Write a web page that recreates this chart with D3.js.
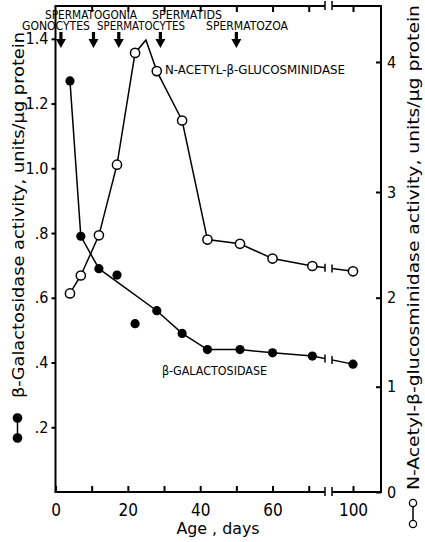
<!DOCTYPE html>
<meta charset="utf-8">
<style>
body { margin: 0; background: #fff; }
text { font-family: 'DejaVu Sans Condensed', 'DejaVu Sans', sans-serif; fill: #000; }
.tick line { stroke: #000; stroke-width: 2px; }
.tick text { font-size: 16px; }
.frame { stroke: #000; stroke-width: 2px; fill: none; }
.series { fill: none; stroke: #000; stroke-width: 1.5px; }
.lab { font-size: 11.5px; }
</style>
<body>
<script src="https://d3js.org/d3.v7.min.js"></script>
<script>

// ages (days) at which both enzymes were measured
const days = [4, 7, 12, 17, 22, 28, 35, 42, 51, 60, 71, 100];
// beta-galactosidase, units/ug protein (left axis)
const galValues = [1.27, 0.79, 0.69, 0.67, 0.52, 0.56, 0.49, 0.44, 0.44, 0.43, 0.42, 0.395];
// points the drawn line goes through (17 and 22 days sit off the line)
const galOnLine = [1, 1, 1, 0, 0, 1, 1, 1, 1, 1, 1, 1];
// N-acetyl-beta-glucosaminidase, units/ug protein (right axis)
const nagValues = [2.04, 2.21, 2.59, 3.21, 4.07, 3.93, 3.55, 2.55, 2.51, 2.37, 2.30, 2.25];
// peak of the drawn curve between 22 and 28 days
const nagPeak = [25, 4.17];

const stageArrows = [1.5, 10.5, 17.5, 29, 50];
const stageLabels = [
  {text: "SPERMATOGONIA", row: 0, x0: 45, x1: 137},
  {text: "SPERMATIDS", row: 0, x0: 152, x1: 222},
  {text: "GONOCYTES", row: 1, x0: 22, x1: 90},
  {text: "SPERMATOCYTES", row: 1, x0: 97, x1: 185},
  {text: "SPERMATOZOA", row: 1, x0: 206, x1: 288}
];

const xTicks = [0, 10, 20, 30, 40, 50, 60, 70, 100],
      xLabels = [0, 20, 40, 60, 100],
      leftTicks = [0.2, 0.4, 0.6, 0.8, 1.0, 1.2, 1.4],
      rightTicks = [0, 1, 2, 3, 4];

const breakLo = 74.5, breakHi = 94;

let width = 425, height = 542,
    mLeft = 55.5, mRight = 381, mTop = 6, mBottom = 492;

let svg = d3.select("body").append("svg")
            .attr("width", width)
            .attr("height", height);

// broken time axis: 0-74.5 then 94-108
let x = d3.scaleLinear()
          .domain([0, breakLo, breakHi, 108])
          .range([mLeft, 325, 332, mRight]),
    yL = d3.scaleLinear().domain([0, 1.4]).range([mBottom, 38.8]),
    // hand drawn right scale is not evenly spaced
    yR = d3.scaleLinear().domain([0, 1, 2, 3, 4]).range([mBottom, 386.7, 297.7, 192, 62]);

// bottom axis
svg.append("g")
    .attr("transform", `translate(0,${mBottom})`)
    .call(d3.axisBottom(x).tickValues(xTicks).tickSizeInner(-6).tickSizeOuter(0).tickPadding(12)
            .tickFormat(d => xLabels.includes(d) ? d : ""))
    .call(g => g.select(".domain").remove())
    .call(g => g.selectAll(".tick text").style("font-size", "17px"));

// top ticks
svg.append("g")
    .attr("transform", `translate(0,${mTop})`)
    .call(d3.axisTop(x).tickValues(xTicks.slice(1)).tickSizeInner(-6).tickSizeOuter(0).tickFormat(""))
    .call(g => g.select(".domain").remove());

// left axis
svg.append("g")
    .attr("transform", `translate(${mLeft},0)`)
    .call(d3.axisLeft(yL).tickValues(leftTicks).tickSizeInner(4).tickSizeOuter(0).tickPadding(3)
            .tickFormat(d => d < 1 ? d3.format(".1f")(d).slice(1) : d3.format(".1f")(d)))
    .call(g => g.select(".domain").remove());

// right axis
svg.append("g")
    .attr("transform", `translate(${mRight},0)`)
    .call(d3.axisRight(yR).tickValues(rightTicks).tickSizeInner(-5).tickSizeOuter(0).tickPadding(6)
            .tickFormat(d => d))
    .call(g => g.select(".domain").remove());

// N-acetyl line with rounded peak
let nagLinePts = days.map((d, i) => [d, nagValues[i]]);
nagLinePts.splice(5, 0, nagPeak);
let galLinePts = days.map((d, i) => [d, galValues[i]]).filter((d, i) => galOnLine[i]);

let lineL = d3.line().x(d => x(d[0])).y(d => yL(d[1])),
    lineR = d3.line().x(d => x(d[0])).y(d => yR(d[1]));

svg.append("path").attr("class", "series").attr("d", lineR(nagLinePts));
svg.append("path").attr("class", "series").attr("d", lineL(galLinePts));

// gap in the lines at the axis break
svg.append("rect")
    .attr("x", x(breakLo)).attr("width", x(breakHi) - x(breakLo))
    .attr("y", mTop + 8).attr("height", mBottom - mTop - 16)
    .attr("fill", "#fff");

// small end bars where the series cross the break
function breakBars(y0, y1) {
  let x0 = x(71), x1 = x(100);
  [x(breakLo), x(breakHi)].forEach(xb => {
    let yb = y0 + (xb - x0) / (x1 - x0) * (y1 - y0);
    svg.append("line").attr("class", "frame").style("stroke-width", 1.5)
        .attr("x1", xb).attr("x2", xb).attr("y1", yb - 4).attr("y2", yb + 4);
  });
}
breakBars(yR(nagValues[10]), yR(nagValues[11]));
breakBars(yL(galValues[10]), yL(galValues[11]));

// frame
[mTop, mBottom].forEach(yy => {
  svg.append("line").attr("class", "frame").attr("x1", mLeft - 1).attr("x2", x(breakLo)).attr("y1", yy).attr("y2", yy);
  svg.append("line").attr("class", "frame").attr("x1", x(breakHi)).attr("x2", mRight + 1).attr("y1", yy).attr("y2", yy);
  [x(breakLo), x(breakHi)].forEach(xb =>
    svg.append("line").attr("class", "frame").style("stroke-width", 1.5)
        .attr("x1", xb).attr("x2", xb).attr("y1", yy - 5).attr("y2", yy + 4));
});
svg.append("line").attr("class", "frame").attr("x1", mLeft).attr("x2", mLeft).attr("y1", mTop).attr("y2", mBottom);
svg.append("line").attr("class", "frame").attr("x1", mRight).attr("x2", mRight).attr("y1", mTop).attr("y2", mBottom);

// points
svg.append("g")
  .selectAll("circle")
  .data(days)
  .join("circle")
    .attr("cx", d => x(d))
    .attr("cy", (d, i) => yR(nagValues[i]))
    .attr("r", 4.6)
    .attr("fill", "#fff")
    .attr("stroke", "#000")
    .attr("stroke-width", 1.5);

svg.append("g")
  .selectAll("circle")
  .data(days)
  .join("circle")
    .attr("cx", d => x(d))
    .attr("cy", (d, i) => yL(galValues[i]))
    .attr("r", 4.6)
    .attr("fill", "#000");

// stage arrows
svg.append("g")
  .selectAll("path")
  .data(stageArrows)
  .join("path")
    .attr("d", d => {
      let cx = x(d);
      return `M${cx - 1.6},32 L${cx + 1.6},32 L${cx + 1.6},39 L${cx + 5},39 L${cx},48 L${cx - 5},39 L${cx - 1.6},39 Z`;
    })
    .attr("fill", "#000");

svg.append("g")
  .selectAll("text")
  .data(stageLabels)
  .join("text")
    .attr("class", "lab")
    .attr("x", d => d.x0)
    .attr("y", d => d.row ? 29.5 : 19)
    .attr("textLength", d => d.x1 - d.x0)
    .attr("lengthAdjust", "spacingAndGlyphs")
    .text(d => d.text);

// curve labels
svg.append("text").attr("class", "lab")
    .attr("x", 165).attr("y", 74)
    .attr("textLength", 180).attr("lengthAdjust", "spacingAndGlyphs")
    .text("N-ACETYL-β-GLUCOSMINIDASE");
svg.append("text").attr("class", "lab")
    .attr("x", 162).attr("y", 375)
    .attr("textLength", 105).attr("lengthAdjust", "spacingAndGlyphs")
    .text("β-GALACTOSIDASE");

// axis titles
svg.append("text")
    .attr("x", 218).attr("y", 534)
    .attr("text-anchor", "middle")
    .attr("textLength", 83).attr("lengthAdjust", "spacingAndGlyphs")
    .style("font-size", "16px")
    .text("Age , days");

svg.append("text")
    .attr("transform", "translate(23.5,398) rotate(-90)")
    .attr("textLength", 366).attr("lengthAdjust", "spacingAndGlyphs")
    .style("font-size", "16px")
    .text("β-Galactosidase  activity, units/µg  protein");

svg.append("text")
    .attr("transform", "translate(419,490) rotate(-90)")
    .attr("textLength", 485).attr("lengthAdjust", "spacingAndGlyphs")
    .style("font-size", "16px")
    .text("N-Acetyl-β-glucosminidase  activity, units/µg  protein");

// legend keys beside the titles
function key(cx, y0, y1, open) {
  svg.append("line").attr("class", "series").attr("x1", cx).attr("x2", cx).attr("y1", y0).attr("y2", y1);
  [y0, y1].forEach(cy => svg.append("circle")
      .attr("cx", cx).attr("cy", cy).attr("r", open ? 3.6 : 4.2)
      .attr("fill", open ? "#fff" : "#000")
      .attr("stroke", "#000").attr("stroke-width", 1.3));
}
key(17.5, 418, 438, false);
key(413, 503, 524, true);

</script>
